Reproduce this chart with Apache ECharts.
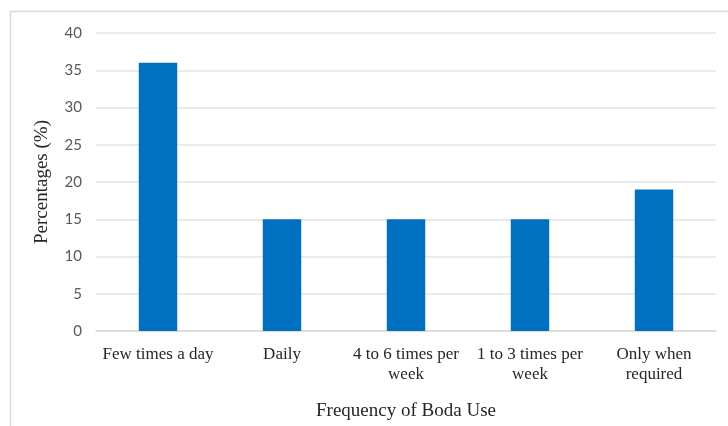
<!DOCTYPE html>
<html>
<head>
<meta charset="utf-8">
<script src="https://cdn.jsdelivr.net/npm/echarts@6/dist/echarts.min.js"></script>
<style>
  html, body { margin: 0; padding: 0; background: #fff; }
  #chart { width: 728px; height: 426px; }
</style>
</head>
<body>
<div id="chart"></div>
<script>
// Frequency of boda use (survey responses, %)
const categories = [
  'Few times a day',
  'Daily',
  '4 to 6 times per\nweek',
  '1 to 3 times per\nweek',
  'Only when\nrequired'
];
const percentages = [36, 15, 15, 15, 19];
const yTicks = { min: 0, max: 40, interval: 5 };

const serif = '"Liberation Serif", "DejaVu Serif", serif';
const sans = 'Lato, "Open Sans", sans-serif';

const chart = echarts.init(document.getElementById('chart'), null, { renderer: 'canvas' });
chart.setOption({
  backgroundColor: '#ffffff',
  animation: false,
  graphic: [{
    type: 'rect',
    shape: { x: 10.5, y: 11.5, width: 740, height: 440 },
    style: { fill: 'none', stroke: '#d9d9d9', lineWidth: 1.5 },
    silent: true
  }],
  grid: { left: 96, right: 12, top: 33, bottom: 95, outerBoundsMode: 'none', containLabel: false },
  xAxis: {
    type: 'category',
    data: categories,
    name: 'Frequency of Boda Use',
    nameLocation: 'middle',
    nameGap: 71,
    nameTextStyle: { fontFamily: serif, fontSize: 19, color: '#262626' },
    axisLine: { lineStyle: { color: '#d9d9d9', width: 1.5 } },
    axisTick: { show: false },
    axisLabel: {
      interval: 0,
      margin: 14,
      fontFamily: serif,
      fontSize: 17,
      lineHeight: 20,
      color: '#262626'
    }
  },
  yAxis: {
    type: 'value',
    min: yTicks.min,
    max: yTicks.max,
    interval: yTicks.interval,
    name: 'Percentages (%)',
    nameLocation: 'middle',
    nameGap: 44,
    nameTextStyle: { fontFamily: serif, fontSize: 19, color: '#262626' },
    axisLine: { show: false },
    axisTick: { show: false },
    axisLabel: { margin: 14, fontFamily: sans, fontSize: 15, color: '#595959' },
    splitLine: { lineStyle: { color: '#e3e3e3', width: 1.5 } }
  },
  series: [{
    type: 'bar',
    data: percentages,
    barWidth: '31%',
    itemStyle: { color: '#0070c0' }
  }]
});
</script>
</body>
</html>
